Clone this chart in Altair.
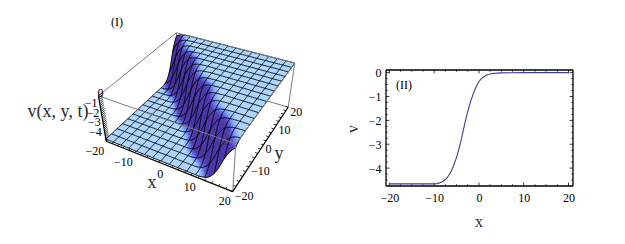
import altair as alt
import numpy as np
import pandas as pd

alt.data_transformers.disable_max_rows()

# ---- profile (II): v at x = -10 ... 4 in steps of 1/3
PROFILE_V = [-4.66, -4.655, -4.65, -4.63, -4.61, -4.58, -4.55, -4.50, -4.45, -4.38,
             -4.28, -4.18, -4.05, -3.90, -3.73, -3.55, -3.33, -3.10, -2.85, -2.57,
             -2.28, -2.00, -1.75, -1.52, -1.30, -1.10, -0.92, -0.75, -0.61, -0.49,
             -0.38, -0.30, -0.23, -0.18, -0.14, -0.11, -0.08, -0.065, -0.05, -0.04,
             -0.03, -0.025, -0.02]
PROFILE_X = [round(-10 + k / 3, 3) for k in range(len(PROFILE_V))]
LINE_X = [-20, -15] + PROFILE_X + [5, 10, 20]
LINE_V = [-4.66, -4.66] + PROFILE_V + [-0.01, 0.0, 0.0]

X_MAJOR = [-20, -10, 0, 10, 20]
X_MINOR = [-17.5, -15, -12.5, -7.5, -5, -2.5, 2.5, 5, 7.5, 12.5, 15, 17.5]
Y_MAJOR = [0, -1, -2, -3, -4]
Y_MINOR = [v / 4 for v in range(-18, 0) if v % 4 != 0]
X_RANGE = [-20.75, 21.0]
Y_RANGE = [-4.75, 0.11]

# ---- 3D box, calibrated against the picture
Z_TOP, Z_BOT = 0.0, -4.9
BOX_POINTS = [(-20, -20, Z_TOP), (-20, 20, Z_TOP), (20, 20, Z_TOP), (20, -20, Z_TOP),
              (-20, -20, Z_BOT), (20, -20, Z_BOT), (20, 20, Z_BOT)]
BOX_PIXELS = [(98.7, 95), (176.3, 33), (294.7, 62.7), (235.7, 145),
              (106, 141.7), (232.7, 191), (288.3, 107.3)]
M, B = [], []
for (X, Y, Z), (u, w) in zip(BOX_POINTS, BOX_PIXELS):
    M.append([X, Y, Z, 1, 0, 0, 0, 0, -u * X, -u * Y, -u * Z]); B.append(u)
    M.append([0, 0, 0, 0, X, Y, Z, 1, -w * X, -w * Y, -w * Z]); B.append(w)
CAM = np.append(np.linalg.lstsq(np.array(M, float), np.array(B, float), rcond=None)[0], 1).reshape(3, 4)


def proj(x, y, z):
    h = CAM @ np.array([x, y, z, np.ones_like(np.asarray(x, float))], float)
    return h[0] / h[2], h[1] / h[2]


# ---- surface: v(x, y) = profile(x + y), fine grid in steps of 2/3, mesh every 4th line
N = 60
MESH_EVERY = 4
GX = np.array([-20 + i * 2 / 3 for i in range(N + 1)])
GY = np.array([-20 + j * 2 / 3 for j in range(N + 1)])
Vg = np.zeros((N + 1, N + 1))
for i in range(N + 1):
    for j in range(N + 1):
        k = 2 * (i + j) - 90
        Vg[i, j] = PROFILE_V[0] if k < 0 else (0.0 if k >= len(PROFILE_V) else PROFILE_V[k])
XX, YY = np.meshgrid(GX, GY, indexing="ij")
PX, PY = proj(XX.ravel(), YY.ravel(), Vg.ravel())
PX, PY = PX.reshape(XX.shape), PY.reshape(XX.shape)

SLOPE = np.gradient(np.array(PROFILE_V), 1 / 3) * np.sqrt(2)
WIGGLE_AMP, WIGGLE_PERIOD = 0.8, 11.0
Sh = XX + YY + WIGGLE_AMP * np.sin(2 * np.pi * (YY - XX) / 2 / WIGGLE_PERIOD)
T = np.clip(np.interp(Sh, PROFILE_X, SLOPE, left=0, right=0) / 0.5, 0, 1)
RAMP_T = [0, 0.10, 0.35, 0.65, 1]
RAMP_C = np.array([[170, 212, 255], [142, 184, 252], [92, 105, 236], [76, 60, 184], [72, 48, 166]], float)


def col(t):
    return "#%02x%02x%02x" % tuple(int(round(np.interp(t, RAMP_T, RAMP_C[:, c]))) for c in range(3))


features = []
for j in range(N - 1, -1, -1):
    for i in range(N):
        ring = [[round(float(PX[a, b]), 2), round(float(PY[a, b]), 2)]
                for a, b in ((i, j), (i + 1, j), (i + 1, j + 1), (i, j + 1), (i, j))]
        c = col((T[i, j] + T[i + 1, j] + T[i, j + 1] + T[i + 1, j + 1]) / 4)
        features.append({"type": "Feature", "properties": {"c": c},
                         "geometry": {"type": "Polygon", "coordinates": [ring]}})

W, H = 609, 228
PXS = alt.Scale(domain=[8, 8 + W], range=[0, W])
PYS = alt.Scale(domain=[8, 8 + H], range=[0, H])

surface = alt.Chart(alt.Data(values=features)).mark_geoshape(strokeWidth=0.5).encode(
    fill=alt.Fill("properties.c:N", scale=None),
    stroke=alt.Stroke("properties.c:N", scale=None),
).project(type="identity", scale=1, translate=[-8, -8])

rows = []
for i in range(0, N + 1, MESH_EVERY):
    for j in range(N + 1):
        rows.append({"id": f"x{i}", "o": j, "px": PX[i, j], "py": PY[i, j]})
for j in range(0, N + 1, MESH_EVERY):
    for i in range(N + 1):
        rows.append({"id": f"y{j}", "o": i, "px": PX[i, j], "py": PY[i, j]})
mesh_df = pd.DataFrame(rows)


def lines(df, color, width):
    return alt.Chart(df).mark_line(color=color, strokeWidth=width, interpolate="linear").encode(
        x=alt.X("px:Q", scale=PXS, axis=None),
        y=alt.Y("py:Q", scale=PYS, axis=None),
        detail="id:N",
        order="o:Q",
    )


mesh = lines(mesh_df, "#000000", 0.85)


def seg_df(segs):
    out = []
    for n, (p, q) in enumerate(segs):
        for o, pt in enumerate((p, q)):
            u, w = proj(np.array([float(pt[0])]), np.array([float(pt[1])]), np.array([float(pt[2])]))
            out.append({"id": n, "o": o, "px": float(u[0]), "py": float(w[0])})
    return pd.DataFrame(out)


A, Bb, C, D = (-20, -20, Z_TOP), (-20, 20, Z_TOP), (20, 20, Z_TOP), (20, -20, Z_TOP)
E, F, G, Hh = (-20, -20, Z_BOT), (20, -20, Z_BOT), (20, 20, Z_BOT), (-20, 20, Z_BOT)
back = lines(seg_df([(A, Bb), (Bb, Hh), (Hh, E), (Hh, G)]), "#7a7a7a", 1)
front_gray = lines(seg_df([(A, D), (Bb, C), (C, D), (C, G), (D, F)]), "#7d7d7d", 1)
front_black = lines(seg_df([(A, E), (E, F), (F, G)]), "#000000", 1.2)

TICKS3 = list(range(-20, 21, 2))
ZTICKS = [-v / 5 for v in range(0, 24)]
tick_segs = [((t, -20, Z_BOT), (t, -19.2, Z_BOT)) for t in TICKS3]
tick_segs += [((20, t, Z_BOT), (19.2, t, Z_BOT)) for t in TICKS3]
tick_segs += [((-20, -20, z), (-20, -18.5, z)) for z in ZTICKS]
ticks3 = lines(seg_df(tick_segs), "#000000", 0.8)

TXT = "Liberation Serif"


def text_df(items):
    return pd.DataFrame([{"t": t, "px": u, "py": w} for t, u, w in items])


def label_layer(items, size, align="center", color="#000000", **kw):
    return alt.Chart(text_df(items)).mark_text(font=TXT, fontSize=size, align=align, baseline="middle", color=color, **kw).encode(
        x=alt.X("px:Q", scale=PXS, axis=None),
        y=alt.Y("py:Q", scale=PYS, axis=None),
        text="t:N",
    )


AX_VALUES = [-20, -10, 0, 10, 20]
AX_TEXT = ["\u221220", "\u221210", "0", "10", "20"]
Z_VALUES = [0, -1, -2, -3, -4]
Z_TEXT = ["0", "\u22121", "\u22122", "\u22123", "\u22124"]
Z_SHIFT = [(5, -3), (-2.5, -3), (-2.5, -2), (-2.5, -2), (-3, -1)]
x_items, y_items, z_items = [], [], []
for v, s in zip(AX_VALUES, AX_TEXT):
    u, w = proj(np.array([float(v)]), np.array([-20.0]), np.array([Z_BOT]))
    x_items.append((s, float(u[0]) - 2, float(w[0]) + 9.5))
    u, w = proj(np.array([20.0]), np.array([float(v)]), np.array([Z_BOT]))
    y_items.append((s, float(u[0]) + 2, float(w[0]) + 4.5))
for v, s, (sx, sy) in zip(Z_VALUES, Z_TEXT, Z_SHIFT):
    u, w = proj(np.array([-20.0]), np.array([-20.0]), np.array([float(v)]))
    z_items.append((s, float(u[0]) + sx, float(w[0]) + sy))

labels = [
    label_layer(x_items, 12, align="right"),
    label_layer(y_items, 12, align="left"),
    label_layer(z_items, 12, align="right"),
    label_layer([("v(x, y, t)", 58, 112), ("x", 152, 183), ("y", 279, 154)], 18, color="#2a2a2a"),
    label_layer([("(I)", 117, 22)], 12),
    label_layer([("(II)", 404, 85)], 12),
    label_layer([("x", 479, 222)], 16, color="#2a2a2a"),
    label_layer([("v", 353, 129)], 16, color="#2a2a2a", angle=270),
]

# ---- panel II
XS = alt.Scale(domain=X_RANGE, range=[386 - 8, 573 - 8], nice=False, zero=False)
YS = alt.Scale(domain=Y_RANGE, range=[186 - 8, 70 - 8], nice=False, zero=False)
line_df = pd.DataFrame({"x": LINE_X, "v": LINE_V})
line2 = alt.Chart(line_df).mark_line(color="#3d3d9c", strokeWidth=1.1).encode(
    x=alt.X("x:Q", scale=XS, axis=alt.Axis(
        values=AX_VALUES, orient="bottom", offset=-50, ticks=False, domain=False, grid=False, title=None,
        labelFont=TXT, labelFontSize=12, labelColor="#000", labelPadding=6, labelFlush=False, labelOverlap=False)),
    y=alt.Y("v:Q", scale=YS, axis=alt.Axis(
        values=Y_MAJOR, orient="left", offset=-378, ticks=False, domain=False, grid=False, title=None,
        labelFont=TXT, labelFontSize=12, labelColor="#000", labelPadding=5, labelFlush=False, labelOverlap=False)),
)


def rule2(df, width):
    return alt.Chart(df).mark_rule(color="#000000", strokeWidth=width).encode(
        x=alt.X("a:Q", scale=XS, axis=None),
        y=alt.Y("b:Q", scale=YS, axis=None),
        x2="a2:Q",
        y2="b2:Q",
    )


x0, x1 = X_RANGE
y0, y1 = Y_RANGE
frame = pd.DataFrame({"a": [x0, x0, x0, x1], "a2": [x1, x1, x0, x1], "b": [y0, y1, y0, y0], "b2": [y0, y1, y1, y1]})
rows2 = []
for xs, ln in ((X_MAJOR, 0.14), (X_MINOR, 0.07)):
    for t in xs:
        rows2.append({"a": t, "a2": t, "b": y0, "b2": y0 + ln})
        rows2.append({"a": t, "a2": t, "b": y1, "b2": y1 - ln})
for ys, ln in ((Y_MAJOR, 0.75), (Y_MINOR, 0.38)):
    for t in ys:
        rows2.append({"a": x0, "a2": x0 + ln, "b": t, "b2": t})
        rows2.append({"a": x1, "a2": x1 - ln, "b": t, "b2": t})
ticks2 = pd.DataFrame(rows2)

left_layers = [back, surface, mesh, front_gray, front_black, ticks3] + labels
chart = alt.layer(
    *left_layers, rule2(ticks2, 0.8), line2, rule2(frame, 1.3)
).resolve_scale(x="independent", y="independent").resolve_axis(x="independent", y="independent").properties(
    width=W, height=H, padding=0, autosize=alt.AutoSizeParams(type="none"), background="#ffffff"
).configure_view(stroke=None)

chart.save("out.html", embed_options={"renderer": "svg", "actions": False})
